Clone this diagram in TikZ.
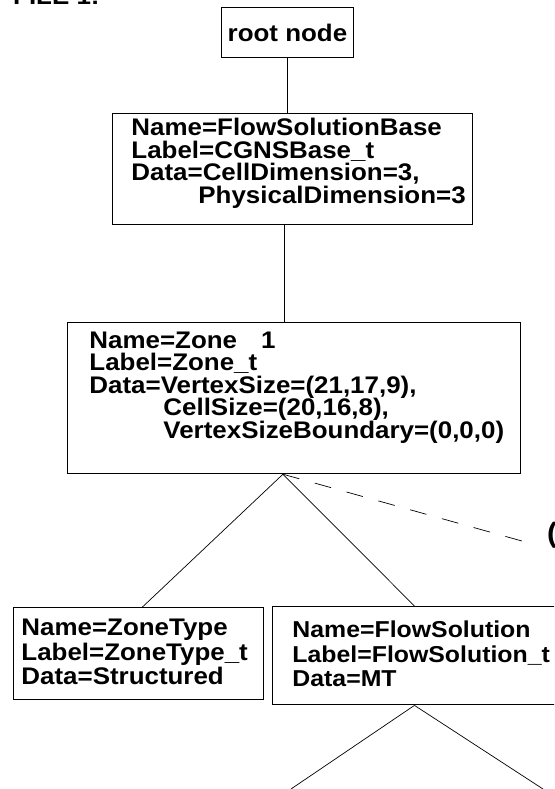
\documentclass[tikz,border=0pt]{standalone}
\usepackage{fontspec}
\setmainfont{Liberation Sans}[FakeStretch=1.08]

\tikzstyle{Field} = [draw,
                     rectangle,
                     anchor=north west,
                     align=left,
                     line width=0.9pt,
                     font=\bfseries\fontsize{24}{22.5}\selectfont]
\tikzstyle{Link} = [line width=0.7pt]

\begin{document}
\begin{tikzpicture}[x=1pt, y=-1pt]

    \useasboundingbox (0,0) rectangle (554,789);
    \clip (0,0) rectangle (554,789);

    \node (title) at (13,5) [anchor=base west, inner sep=0pt, font=\bfseries\fontsize{24}{24}\selectfont] {FILE 1:};

    % Tree nodes
    \node (root) at (221,7) [Field, align=center, inner sep=0pt, minimum width=132pt, minimum height=50pt] {root node};
    \node (base) at (112,113) [Field, inner xsep=19pt, inner ysep=5pt, text width=322pt, text depth=83.8pt]
        {Name=FlowSolutionBase\\ Label=CGNSBase\_t\\ Data=CellDimension=3,\\ \mbox{\hspace{67pt}PhysicalDimension=3}};
    \node (zone) at (67,322) [Field, inner xsep=22pt, inner ysep=9.5pt, text width=409pt, text depth=115.8pt]
        {Name=Zone~~~1\\ Label=Zone\_t\\ Data=VertexSize=(21,17,9),\\ \mbox{\hspace{74pt}CellSize=(20,16,8),}\\ \mbox{\hspace{74pt}VertexSizeBoundary=(0,0,0)}};
    \node (ztype) at (13,607) [Field, inner xsep=8pt, inner ysep=12pt, text width=234pt, text depth=51.8pt,
                               font=\bfseries\fontsize{24}{24.5}\selectfont]
        {Name=ZoneType\\ Label=ZoneType\_t\\ Data=Structured};
    \node (fsol) at (272,606) [Field, inner xsep=20pt, inner ysep=14.5pt, text width=244pt, text depth=52.8pt,
                               font=\bfseries\fontsize{23}{24.5}\selectfont]
        {Name=FlowSolution\\ Label=FlowSolution\_t\\ Data=MT};
    \node (more) at (547,542) [anchor=base west, inner sep=0pt, font=\bfseries\fontsize{28}{30}\selectfont] {(};

    % Branch points
    \coordinate (zbot) at ([xshift=-11pt]zone.south);
    \coordinate (leftkid) at (291,789);
    \coordinate (rightkid) at (543,789);

    % Lines
    \draw [Link] (root.south) -- (root.south |- base.north);
    \draw [Link] ([xshift=-8pt]base.south) -- ([xshift=-8pt]base.south |- zone.north);

    \draw [Link] (zbot) -- ([xshift=4pt]ztype.north);
    \draw [Link] (zbot) -- (fsol.north);
    \draw [Link, dash pattern=on 17pt off 16pt, shorten >=12pt] (zbot) -- (more.south west);

    \draw [Link] (fsol.south) -- (leftkid);
    \draw [Link] (fsol.south) -- (rightkid);

\end{tikzpicture}
\end{document}
